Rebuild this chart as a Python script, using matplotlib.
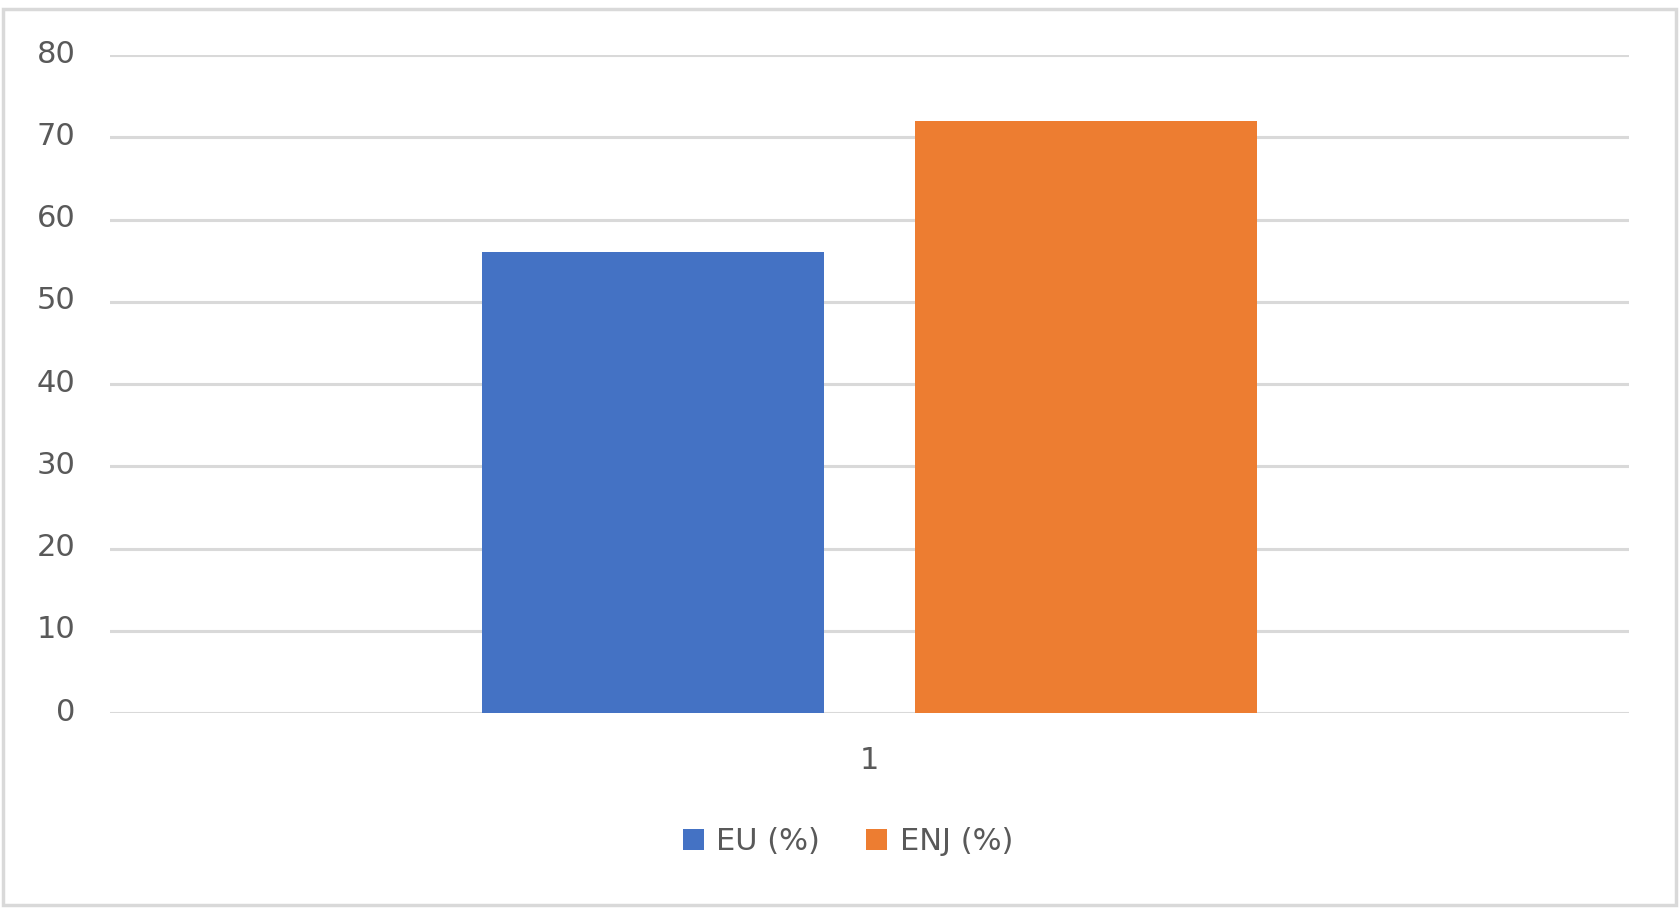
import numpy as np
import matplotlib
matplotlib.use("Agg")
from matplotlib import pyplot as plt
from matplotlib.patches import Rectangle
from matplotlib.transforms import ScaledTranslation

categories = ["1"]
series_names = ["EU (%)", "ENJ (%)"]
eu_values = [56]
enj_values = [72]
colors = ["#4472C4", "#ED7D31"]
y_ticks = [0, 10, 20, 30, 40, 50, 60, 70, 80]

text_color = "#595959"
grid_color = "#d9d9d9"

fig = plt.figure(figsize=(16.79, 9.14), dpi=100)
ax = fig.add_axes([0.0655, 0.2199, 0.9047, 0.7199])

x = np.arange(len(categories))
width = 0.225
offset = 0.1425
ax.bar(x - offset, eu_values, width, color=colors[0], label=series_names[0], zorder=3)
ax.bar(x + offset, enj_values, width, color=colors[1], label=series_names[1], zorder=3)

ax.set_xlim(-0.5, 0.5)
ax.set_ylim(0, 80)
ax.set_yticks(y_ticks)
ax.set_xticks(x)
ax.set_xticklabels(categories)
ax.yaxis.grid(True, color=grid_color, linewidth=2.2, zorder=0)
ax.set_axisbelow(True)
for s in ax.spines.values():
    s.set_visible(False)
ax.tick_params(axis="both", length=0, labelsize=22, labelcolor=text_color)
ax.tick_params(axis="y", pad=25)
ax.tick_params(axis="x", pad=24)

# y labels sit a little above their gridlines
shift = ScaledTranslation(0, 4 / 100, fig.dpi_scale_trans)
for lbl in ax.get_yticklabels():
    lbl.set_transform(lbl.get_transform() + shift)

fig.legend(loc="center", bbox_to_anchor=(0.505, 0.079), ncol=2, frameon=False,
           fontsize=22, labelcolor=text_color, handlelength=0.7, handleheight=0.7,
           handletextpad=0.4, columnspacing=1.5)

# chart border
fig.patches.append(Rectangle((0.0018, 0.0098), 0.9964, 0.980, transform=fig.transFigure,
                             fill=False, edgecolor=grid_color, linewidth=2.5))

fig.savefig("out.png", dpi=100)
